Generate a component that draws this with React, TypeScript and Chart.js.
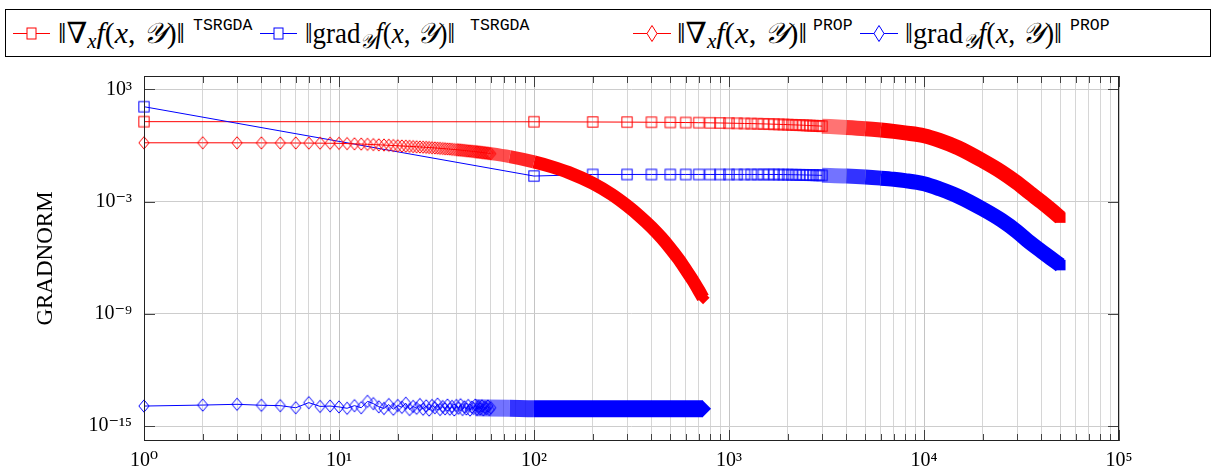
import React, { useEffect, useRef } from "react";
import { Chart, registerables } from "chart.js";

Chart.register(...registerables);

// ---------- data ----------
// TSRGDA: iterations with individual square markers
const sqIter = [1, 100, 200, 300, 400, 500, 600, 700, 800, 900, 1000, 1100, 1200, 1300, 1400, 1500, 1600, 1700, 1800, 1900, 2000, 2100, 2200, 2300, 2400, 2500, 2600, 2700, 2800, 2900, 3000];
const tsrgdaGradX = [18.6, 18.3, 17.9, 17.6, 17.3, 17.0, 16.7, 16.4, 16.1, 15.8, 15.5, 15.2, 14.9, 14.7, 14.4, 14.1, 13.9, 13.6, 13.4, 13.1, 12.9, 12.6, 12.4, 12.2, 12.0, 11.7, 11.5, 11.3, 11.1, 10.9, 10.7];
const tsrgdaGradY = [117, 0.023, 0.028, 0.028, 0.028, 0.028, 0.028, 0.028, 0.028, 0.028, 0.028, 0.028, 0.028, 0.028, 0.028, 0.028, 0.028, 0.028, 0.0278, 0.0276, 0.0275, 0.0272, 0.027, 0.0268, 0.0265, 0.0262, 0.026, 0.0258, 0.0255, 0.0253, 0.0251];
// TSRGDA: dense part (markers merge into a band)
const sqBandIter = [3000, 4000, 5000, 6000, 7000, 8000, 10000, 12000, 15000, 20000, 25000, 30000, 35000, 40000, 45000, 50000];
const tsrgdaGradXBand = [10.7, 9.1, 7.8, 6.6, 5.6, 4.7, 3.3, 1.86, 0.74, 0.151, 0.038, 0.01, 2.8e-3, 9.5e-4, 3.5e-4, 1.38e-4];
const tsrgdaGradYBand = [0.0251, 0.0229, 0.0204, 0.0178, 0.0155, 0.0132, 8.9e-3, 4.8e-3, 1.9e-3, 4.0e-4, 1.0e-4, 2.5e-5, 6.3e-6, 2.2e-6, 8.9e-7, 4.0e-7];

// PROP: iterations with individual diamond markers
const dmIter = [1, 2, 3, 4, 5, 6, 7, 8, 9, 10, 11, 12, 13, 14, 15, 16, 17, 18, 19, 20, 21, 22, 23, 24, 25, 26, 27, 28, 29, 30, 31, 32, 33, 34, 35, 36, 37, 38, 39, 40, 41, 42, 43, 44, 45, 46, 47, 48, 49, 50, 51, 52, 53, 54, 55, 56, 57, 58, 59, 60];
const propGradX = [1.38, 1.38, 1.374, 1.365, 1.355, 1.346, 1.334, 1.321, 1.306, 1.288, 1.25, 1.213, 1.178, 1.143, 1.109, 1.076, 1.045, 1.014, 0.984, 0.955, 0.933, 0.91, 0.889, 0.867, 0.847, 0.826, 0.807, 0.787, 0.769, 0.75, 0.733, 0.715, 0.698, 0.681, 0.665, 0.649, 0.634, 0.618, 0.604, 0.589, 0.575, 0.561, 0.548, 0.535, 0.522, 0.509, 0.498, 0.485, 0.474, 0.462, 0.452, 0.441, 0.431, 0.42, 0.41, 0.4, 0.391, 0.381, 0.372, 0.363];
const propGradY = [1.17e-14, 1.32e-14, 1.45e-14, 1.29e-14, 1.23e-14, 9.5e-15, 1.78e-14, 1.12e-14, 1.17e-14, 1.05e-14, 8.9e-15, 1.23e-14, 9.5e-15, 2.09e-14, 1.58e-14, 1.07e-14, 8.7e-15, 1.41e-14, 7.9e-15, 1.26e-14, 1.0e-14, 1.66e-14, 7.6e-15, 1.12e-14, 8.9e-15, 1.41e-14, 7.9e-15, 1.2e-14, 7.1e-15, 1.26e-14, 9.5e-15, 1.48e-14, 7.6e-15, 1.1e-14, 8.3e-15, 1.32e-14, 7.9e-15, 1.12e-14, 7.2e-15, 1.26e-14, 8.9e-15, 1.38e-14, 7.6e-15, 1.07e-14, 8.1e-15, 1.26e-14, 7.1e-15, 1.02e-14, 8.7e-15, 1.32e-14, 7.8e-15, 1.12e-14, 8.3e-15, 1.2e-14, 7.4e-15, 1.0e-14, 8.5e-15, 1.17e-14, 7.6e-15, 9.5e-15];
// PROP: dense part
const dmBandIterX = [40, 50, 60, 75, 100, 125, 150, 200, 250, 300, 350, 400, 450, 500, 550, 600, 650, 700, 736];
const propGradXBand = [0.589, 0.462, 0.363, 0.251, 0.132, 0.0692, 0.0363, 9.5e-3, 2.4e-3, 6.0e-4, 1.58e-4, 4.3e-5, 1.17e-5, 3.16e-6, 8.7e-7, 2.3e-7, 6.5e-8, 1.78e-8, 7.1e-9];
const dmBandIterY = [50, 75, 100, 150, 200, 300, 400, 500, 600, 700, 736];
const propGradYBand = [9.5e-15, 9.0e-15, 8.5e-15, 8.4e-15, 8.4e-15, 8.3e-15, 8.3e-15, 8.3e-15, 8.3e-15, 8.3e-15, 8.3e-15];

const xTickExps = [0, 1, 2, 3, 4, 5];
const yTickExps = [-15, -9, -3, 3];

const SERIF = "'Liberation Serif', 'DejaVu Serif', serif";
const MONO = "'Liberation Mono', 'DejaVu Sans Mono', monospace";

const SUP: Record<string, string> = {
  "0": "\u2070", "1": "\u00b9", "2": "\u00b2", "3": "\u00b3", "4": "\u2074",
  "5": "\u2075", "6": "\u2076", "7": "\u2077", "8": "\u2078", "9": "\u2079", "-": "\u207b",
};

function powLabel(v: number): string {
  const e = Math.round(Math.log10(v));
  if (Math.abs(v / Math.pow(10, e) - 1) > 1e-6) return "";
  return "10" + String(e).split("").map((c) => SUP[c]).join("");
}

function isPow10(v: number): boolean {
  const e = Math.round(Math.log10(v));
  return Math.abs(v / Math.pow(10, e) - 1) < 1e-6;
}

const rgba = (blue: boolean, a: number) => (blue ? `rgba(0,0,255,${a})` : `rgba(255,0,0,${a})`);

function makeMarker(kind: "square" | "diamond", color: string): HTMLCanvasElement {
  const c = document.createElement("canvas");
  if (kind === "square") {
    c.width = 14;
    c.height = 14;
    const ctx = c.getContext("2d") as CanvasRenderingContext2D;
    ctx.strokeStyle = color;
    ctx.lineWidth = 1;
    ctx.strokeRect(1.85, 1.85, 10.3, 10.3);
  } else {
    c.width = 14;
    c.height = 16;
    const ctx = c.getContext("2d") as CanvasRenderingContext2D;
    ctx.strokeStyle = color;
    ctx.lineWidth = 1;
    ctx.beginPath();
    ctx.moveTo(7, 1.85);
    ctx.lineTo(12.15, 8);
    ctx.lineTo(7, 14.15);
    ctx.lineTo(1.85, 8);
    ctx.closePath();
    ctx.stroke();
  }
  return c;
}

const pts = (xs: number[], ys: number[]) => xs.map((x, i) => ({ x, y: ys[i] }));

const frameAndTicks = {
  id: "frameAndTicks",
  afterDraw(chart: any) {
    const { ctx, chartArea } = chart;
    const { left, right, top, bottom } = chartArea;
    const xs = chart.scales.x;
    const ys = chart.scales.y;
    ctx.save();
    ctx.strokeStyle = "rgba(40,40,40,0.85)";
    ctx.lineWidth = 1;
    ctx.beginPath();
    for (const t of xs.ticks) {
      const px = Math.round(xs.getPixelForValue(t.value)) + 0.5;
      const len = isPow10(t.value) ? 11 : 7;
      ctx.moveTo(px, bottom);
      ctx.lineTo(px, bottom - len);
      ctx.moveTo(px, top);
      ctx.lineTo(px, top + len);
    }
    for (const t of ys.ticks) {
      const py = Math.round(ys.getPixelForValue(t.value)) + 0.5;
      ctx.moveTo(left, py);
      ctx.lineTo(left + 11, py);
      ctx.moveTo(right, py);
      ctx.lineTo(right - 11, py);
    }
    ctx.stroke();
    ctx.strokeStyle = "#222";
    ctx.strokeRect(left + 0.5, top + 0.5, right - left - 1, bottom - top - 1);
    ctx.restore();
  },
};

const Y_SCRIPT = "\ud835\udcb4";

function Legend() {
  const entries = [
    { x1: 13, x2: 50, tx: 58, tl: 127, sx: 193, kind: "square", blue: false, grad: false, sup: "TSRGDA" },
    { x1: 260, x2: 297, tx: 305, tl: 150, sx: 470, kind: "square", blue: true, grad: true, sup: "TSRGDA" },
    { x1: 633, x2: 671, tx: 677, tl: 130, sx: 813, kind: "diamond", blue: false, grad: false, sup: "PROP" },
    { x1: 860, x2: 898, tx: 905, tl: 157, sx: 1070, kind: "diamond", blue: true, grad: true, sup: "PROP" },
  ];
  const ly = 33.5;
  return (
    <svg width={1216} height={64} style={{ position: "absolute", left: 0, top: 0 }}>
      <rect x={5.5} y={9.5} width={1205} height={47} fill="#fff" stroke="#000" strokeWidth={1} />
      {entries.map((e, i) => {
        const cx = (e.x1 + e.x2) / 2;
        const color = rgba(e.blue, 1);
        return (
          <g key={i}>
            <line x1={e.x1} x2={e.x2} y1={ly} y2={ly} stroke={color} strokeWidth={1} />
            {e.kind === "square" ? (
              <rect x={cx - 4.5} y={ly - 5.5} width={9} height={11} fill="#fff" stroke={color} strokeWidth={1} />
            ) : (
              <polygon
                points={`${cx},${ly - 8} ${cx + 5},${ly} ${cx},${ly + 8} ${cx - 5},${ly}`}
                fill="#fff"
                stroke={color}
                strokeWidth={1}
              />
            )}
            <text
              x={e.tx}
              y={43}
              fontFamily={SERIF}
              fontSize={29}
              fill="#000"
              textLength={e.tl}
              lengthAdjust="spacingAndGlyphs"
            >
              {e.grad ? "\u2016grad" : "\u2016\u2207"}
              <tspan fontStyle="italic" fontSize={20} dy={5}>{e.grad ? Y_SCRIPT : "x"}</tspan>
              <tspan dy={-5} fontStyle="italic">f</tspan>
              {"("}
              <tspan fontStyle="italic">x</tspan>
              {", "}
              <tspan fontStyle="italic">{Y_SCRIPT}</tspan>
              {")\u2016"}
            </text>
            <text x={e.sx} y={30} fontFamily={MONO} fontSize={16.5} fill="#000">
              {e.sup}
            </text>
          </g>
        );
      })}
    </svg>
  );
}

export default function App() {
  const ref = useRef<HTMLCanvasElement | null>(null);

  useEffect(() => {
    if (!ref.current) return;
    const sqRed = makeMarker("square", rgba(false, 1));
    const sqBlue = makeMarker("square", rgba(true, 1));
    const dmRed = makeMarker("diamond", rgba(false, 1));
    const dmBlue = makeMarker("diamond", rgba(true, 1));

    const markerSet = (label: string, data: any[], blue: boolean, style: any, order: number) => ({
      label,
      data,
      borderColor: rgba(blue, 1),
      backgroundColor: rgba(blue, 1),
      borderWidth: 1,
      pointStyle: style,
      pointRadius: 6,
      pointHoverRadius: 6,
      tension: 0,
      clip: false as any,
      order,
    });
    const bandSet = (
      label: string,
      data: any[],
      blue: boolean,
      width: number,
      order: number,
      fade: number[],
      endStyle: string,
      endRadius: number
    ) => ({
      label,
      data,
      borderColor: rgba(blue, 1),
      backgroundColor: rgba(blue, 1),
      borderWidth: width,
      borderJoinStyle: "round" as const,
      borderCapStyle: "butt" as const,
      cubicInterpolationMode: "monotone" as const,
      pointStyle: endStyle,
      pointBorderWidth: 0,
      pointBackgroundColor: rgba(blue, 1),
      pointRadius: (c: any) => (c.dataIndex === data.length - 1 ? endRadius : 0),
      segment: {
        borderColor: (s: any) => rgba(blue, s.p0DataIndex < fade.length ? fade[s.p0DataIndex] : 1),
      },
      clip: false as any,
      order,
    });

    const chart = new Chart(ref.current, {
      type: "line",
      data: {
        datasets: [
          markerSet("tsrgda-x", pts(sqIter, tsrgdaGradX), false, sqRed, 80),
          bandSet("tsrgda-x-band", pts(sqBandIter, tsrgdaGradXBand), false, 15, 79, [0.55, 0.8, 0.92], "rect", 7.4),
          markerSet("tsrgda-y", pts(sqIter, tsrgdaGradY), true, sqBlue, 70),
          bandSet("tsrgda-y-band", pts(sqBandIter, tsrgdaGradYBand), true, 15, 69, [0.55, 0.8, 0.92], "rect", 7.4),
          markerSet("prop-x", pts(dmIter, propGradX), false, dmRed, 60),
          bandSet("prop-x-band", pts(dmBandIterX, propGradXBand), false, 13, 59, [0.4, 0.55, 0.7, 0.85], "rectRot", 6.5),
          markerSet("prop-y", pts(dmIter, propGradY), true, dmBlue, 50),
          bandSet("prop-y-band", pts(dmBandIterY, propGradYBand), true, 17, 49, [0.55, 0.8], "rectRot", 8),
        ],
      },
      options: {
        animation: false,
        responsive: false,
        devicePixelRatio: 1,
        events: [],
        layout: { padding: { left: 0, right: 97, top: 76, bottom: 0 } },
        plugins: { legend: { display: false }, tooltip: { enabled: false } },
        scales: {
          x: {
            type: "logarithmic",
            min: 1,
            max: 1e5,
            bounds: "data",
            afterBuildTicks: (scale: any) => {
              const t: { value: number }[] = [];
              for (const e of xTickExps) {
                for (let m = 1; m <= 9; m++) {
                  const v = m * Math.pow(10, e);
                  if (v <= 1e5 + 1e-6) t.push({ value: v });
                }
              }
              scale.ticks = t;
            },
            afterFit: (scale: any) => {
              scale.height = 31;
            },
            ticks: {
              autoSkip: false,
              maxRotation: 0,
              padding: 8,
              color: "#000",
              font: { family: SERIF, size: 20 },
              callback: (v: any) => powLabel(Number(v)),
            },
            grid: {
              drawTicks: false,
              color: (c: any) => (c.tick && isPow10(c.tick.value) ? "#c4c4c4" : "#d6d6d6"),
              lineWidth: 1,
            },
            border: { display: false },
          },
          y: {
            type: "logarithmic",
            min: Math.pow(10, -15.8),
            max: Math.pow(10, 3.71),
            bounds: "data",
            afterBuildTicks: (scale: any) => {
              scale.ticks = yTickExps.map((e) => ({ value: Math.pow(10, e) }));
            },
            afterFit: (scale: any) => {
              scale.width = 144;
            },
            ticks: {
              autoSkip: false,
              padding: 12,
              color: "#000",
              font: { family: SERIF, size: 20 },
              callback: (v: any) => powLabel(Number(v)),
            },
            grid: { drawTicks: false, color: "#cdcdcd", lineWidth: 1 },
            border: { display: false },
            title: {
              display: true,
              text: "GRADNORM",
              color: "#000",
              font: { family: SERIF, size: 23 },
              padding: { top: 32, bottom: 0 },
            },
          },
        },
      },
      plugins: [frameAndTicks],
    });
    return () => chart.destroy();
  }, []);

  return (
    <div style={{ position: "absolute", left: 0, top: 0, width: 1216, height: 472, background: "#fff" }}>
      <canvas ref={ref} width={1216} height={472} style={{ position: "absolute", left: 0, top: 0, width: 1216, height: 472 }} />
      <Legend />
    </div>
  );
}
